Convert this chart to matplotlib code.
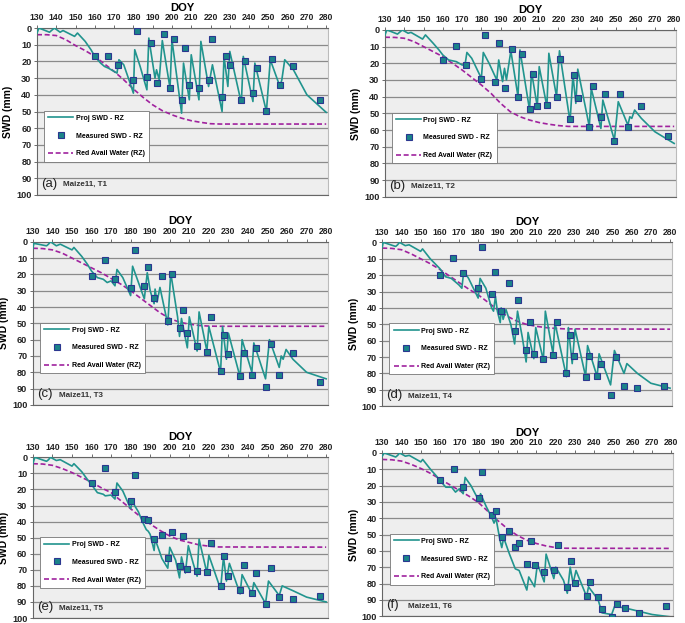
import matplotlib
matplotlib.use("Agg")
import matplotlib.pyplot as plt
import numpy as np

plt.rcParams['font.family'] = ['Liberation Sans', 'DejaVu Sans']

# ========================================
# Datos
# ========================================
doy_meas = [160, 167, 172, 180, 182, 187, 189, 192, 196, 199, 201, 205, 207, 209, 214,
            219, 221, 226, 228, 230, 236, 238, 242, 244, 249, 252, 256, 263, 277]

meas_a = [17, 17, 22.4, 31, 2, 29.4, 9, 33, 3.6, 35.8, 6.4, 43, 12.2, 34.4, 36,
          31.4, 6.6, 41.6, 17, 22.2, 43.4, 20, 39, 24, 49.5, 18.3, 34.3, 23, 43]
meas_b = [17.9, 9.8, 21, 29.5, 3.2, 31.5, 7.6, 34.9, 11.4, 40, 14.7, 47.4, 26.5, 45.4, 44.8,
          40, 17.7, 53.4, 27.3, 40.6, 58.4, 33.3, 52, 38.6, 66.3, 38.2, 58.4, 45.6, 63.5]
meas_c = [21, 11, 22.9, 28.2, 5.3, 27.1, 15.7, 34.3, 21.2, 48.6, 19.8, 52.9, 42, 56.1, 64,
          67.3, 46, 79, 57.3, 69, 82.4, 68, 81.6, 65, 89, 62.4, 81.8, 68, 85.7]
meas_d = [19.9, 9.3, 18.5, 28, 3, 31.4, 17.8, 42, 25, 54.4, 35.1, 66, 48.7, 68.2, 71,
          68.6, 48.5, 80, 56.4, 69.2, 82, 69.2, 81.3, 74.2, 93, 70, 87.4, 88.8, 87.6]
meas_e = [16.1, 6.6, 21.3, 26.9, 11, 38.7, 39.1, 50.7, 48.6, 62.5, 46.2, 67.9, 48.9, 69.2, 71,
          71.4, 53.2, 80.1, 61.7, 74.1, 82.6, 66.9, 84.7, 72.3, 91.5, 68.7, 86.7, 88.4, 86.5]
meas_f = [16.7, 9.8, 20.6, 27.7, 11.6, 38.3, 35.8, 51.3, 47.9, 57.6, 55, 68.2, 53.8, 68.6, 72.9,
          71.9, 56.6, 81.9, 66, 79.6, 87.4, 78.8, 88.4, 95.9, 100.4, 92.3, 95.3, 98.2, 93.7]

# Proj SWD - RZ (simulado)
sim_doy_a = [130, 131, 136.5, 137.5, 139, 142, 143.5, 149.5, 151, 155, 158, 160, 163, 165, 167, 170,
             171.5, 172.5, 175, 178, 180, 180.7, 183.5, 187, 188, 191.2, 192, 193.4, 195, 199, 200,
             205, 206, 209, 210, 214, 215, 219, 221, 226, 227, 229, 230, 236, 237, 242, 243, 249,
             251, 256, 257, 258.5, 263, 270, 280]
sim_a = [3, 0, 2.5, 1.5, 0, 2.5, 1.5, 5, 3, 8, 13, 17, 21, 23, 24, 26,
         27, 19, 22, 32, 39, 13, 23, 37, 6, 30, 25, 31, 7.5, 36, 7,
         51, 21, 43, 16, 43, 8, 35, 22, 50, 17, 35, 14, 45, 17, 44, 21, 50,
         19, 35, 31, 19, 25, 40, 50.5]

sim_doy_b = [130, 131, 136.5, 137.5, 139, 142, 143.5, 149.5, 151, 155, 158, 160, 163, 167, 170, 171.5,
             172.5, 175, 180, 181, 184, 188, 189, 191, 192, 193, 195.3, 199, 200, 205, 206, 209, 210,
             214, 215, 219, 220.5, 226, 227.5, 229, 230, 236, 237, 242, 243, 249, 251, 256, 257, 258,
             259.5, 263, 270, 280]
sim_b = [3, 0, 2.5, 1.5, 0, 2, 1.5, 5.5, 3, 8, 12, 15, 18, 19, 21, 21,
         13.5, 17, 29, 13.5, 20, 30, 18, 31, 23, 30, 12.5, 40, 12, 48, 25, 46, 22,
         46, 14, 40, 12.5, 55, 27, 44, 23.5, 58, 35, 59, 42, 66, 43, 57, 52, 53,
         48, 53, 61, 68]

sim_doy_c = [130, 130.5, 137, 138, 139, 142, 144, 150, 151, 155, 158, 160, 163, 166, 168, 170, 172,
             173, 176, 180, 181, 184, 187, 188.5, 190, 192, 192.5, 193.5, 195, 198, 199, 200.5, 204,
             205, 206, 209, 210, 214, 215, 219, 220, 226, 227, 229, 230, 236, 237, 242, 243, 249,
             251, 256, 257, 258, 259.5, 263, 270, 280]
sim_c = [4, 1, 2.5, 1.5, 0, 2.5, 1.5, 5, 3.5, 9, 14, 18, 22, 23, 25, 24, 27,
         17, 22, 33, 15, 25, 35, 19, 30, 38, 29, 37, 28, 45, 51, 19, 46,
         58, 47, 65, 46, 67, 43, 67, 52, 80, 52, 72, 56, 83, 60, 80, 62, 84,
         60, 77, 70, 72, 66, 72, 80, 84]

sim_doy_d = [130, 130.5, 137, 138, 139, 142, 144, 150, 151, 155, 160, 163, 166, 168, 170, 171.5,
             172.5, 175, 180, 181, 184, 187, 188, 189, 190, 191.5, 192, 193, 194.5, 197, 199, 200.5,
             203, 205, 206, 209, 210, 214, 215, 219, 220, 226, 227, 229, 230.5, 236, 237, 242, 243,
             249, 251, 256, 257.5, 263, 270, 280]
sim_d = [3, 0, 2.5, 1.5, 0, 2, 1.5, 5.5, 4, 10, 16, 21, 22, 24, 26, 28,
         17.5, 22, 34, 22, 28, 40, 42, 33, 42, 49, 40, 47, 41, 50, 62, 42,
         58, 73, 55, 71, 52, 72, 42, 68, 49, 82, 52, 74, 53, 82, 63, 82, 68,
         87, 66, 80, 74, 80, 86, 89]

sim_doy_e = [130, 131, 137, 138, 139, 142, 144, 150, 151, 155, 158, 160, 163, 166, 167, 170, 172,
             173, 176, 180, 181, 182, 184, 186, 188, 189, 190, 192, 192.5, 194, 196, 199, 200, 203,
             205, 206, 208, 209.5, 212, 214, 215, 219, 220, 226, 227.5, 229, 230.5, 236, 237, 242,
             243, 249, 250.5, 256, 257.5, 263, 270, 280]
sim_e = [4, 0, 2.5, 1.5, 0, 2, 1.5, 5.5, 4, 9, 14, 17, 22, 23, 24, 23.5, 26,
         16, 21, 32, 27, 30, 34, 40, 45, 46, 48, 58, 51, 56, 63, 69, 56, 64,
         75, 62, 72, 55, 66, 74, 51, 72, 61, 82, 62, 77, 66, 85, 73, 85,
         78, 91, 77, 86, 80, 83, 87, 90]

sim_doy_f = [130, 131, 137, 138, 139, 142, 144, 150, 151, 155, 158, 160, 163, 166, 168, 170, 172,
             173, 176, 180, 181, 184, 187, 188, 189, 191, 192, 193, 196, 199, 201, 205, 206, 209,
             210.5, 214, 215, 219, 220, 224, 226, 227.5, 229, 230.5, 236, 237, 242, 244, 249, 250.5,
             256, 263, 270, 280]
sim_f = [2, 0, 2.5, 1.5, 0, 2, 1.5, 5.5, 4, 10, 14, 17, 21, 21, 24, 22, 25,
         15, 20, 29, 25, 33, 40, 43, 40, 53, 58, 52, 62, 71, 72, 84, 76, 82,
         68, 79, 62, 77, 70, 78, 86, 70, 80, 72, 88, 82, 90, 98, 99, 94,
         95, 97, 99, 100.5]

# Red Avail Water (RZ)
raw_doy = [130, 135, 140, 145, 150, 155, 160, 165, 170, 175, 180, 185, 190, 195, 200,
           205, 210, 215, 220, 225, 280]
raw_a = [4, 4, 4.5, 7, 10.5, 13.5, 17, 21.5, 26, 31, 36.5, 41.5, 46, 49.5, 52,
         54, 55.5, 56.5, 57.3, 57.5, 57.5]
raw_b = [4.4, 4.5, 5, 7, 10, 13, 16, 20, 24, 28.5, 33, 38, 44, 49, 52,
         54, 55.5, 56.5, 57.3, 57.8, 57.8]
raw_c = [4, 4.2, 5, 7, 10, 13, 16, 19, 22.5, 26, 30, 34.5, 39, 43.5, 47,
         49.3, 50.5, 51.3, 51.7, 51.8, 51.8]
raw_d = [3.5, 3.7, 4.5, 7, 10, 13, 16.5, 20.5, 24.5, 28.5, 32, 36.5, 41, 45, 48,
         50, 51.2, 52, 52.5, 52.8, 53]
raw_e = [4, 4.2, 5, 7, 9.5, 12.5, 15.5, 19, 22, 27, 32, 37, 41.5, 45.5, 49,
         51.5, 53, 54.5, 55.3, 55.8, 55.9]
raw_f = [4, 4.2, 5, 7, 9.5, 12.5, 16, 19.5, 23, 26.5, 30.5, 36, 41.5, 46.5, 50.5,
         53.5, 55.5, 57, 58, 58.4, 58.5]

etiquetas = ["(a)", "(b)", "(c)", "(d)", "(e)", "(f)"]
tratamientos = ["Maize11, T1", "Maize11, T2", "Maize11, T3", "Maize11, T4", "Maize11, T5", "Maize11, T6"]

# ========================================
# Colores
# ========================================
color_linea = "#21948e"
color_marcador = "#1b8489"
color_borde = "#2b3790"
color_raw = "#a0229e"
color_fondo = "#eeeeee"

# posiciones de los ejes [left, bottom, width, height] en fracción de figura
posiciones = [
    [0.054, 0.687, 0.425, 0.268],
    [0.562, 0.684, 0.425, 0.268],
    [0.048, 0.350, 0.431, 0.262],
    [0.558, 0.348, 0.423, 0.263],
    [0.048, 0.008, 0.431, 0.258],
    [0.558, 0.011, 0.425, 0.262],
]

paneles = [
    (sim_doy_a, sim_a, meas_a, raw_a),
    (sim_doy_b, sim_b, meas_b, raw_b),
    (sim_doy_c, sim_c, meas_c, raw_c),
    (sim_doy_d, sim_d, meas_d, raw_d),
    (sim_doy_e, sim_e, meas_e, raw_e),
    (sim_doy_f, sim_f, meas_f, raw_f),
]

fig = plt.figure(figsize=(6.85, 6.23), dpi=100)

for i, (sd, sv, mv, rv) in enumerate(paneles):
    ax = fig.add_axes(posiciones[i])
    ax.set_facecolor(color_fondo)

    ax.plot(sd, sv, color=color_linea, lw=1.2, label="Proj SWD - RZ", zorder=3)
    ax.plot(doy_meas, mv, ls="none", marker="s", ms=4.2, mfc=color_marcador,
            mec=color_borde, mew=0.8, label="Measured SWD - RZ", zorder=4)
    ax.plot(raw_doy, rv, color=color_raw, lw=1.2, ls=(0, (3, 1.6)),
            label="Red Avail Water (RZ)", zorder=2)

    ax.set_xlim(130, 281)
    ax.set_ylim(100, 0)
    ax.set_xticks(np.arange(130, 281, 10))
    ax.set_yticks(np.arange(0, 101, 10))
    ax.xaxis.tick_top()
    ax.xaxis.set_label_position("top")
    ax.tick_params(axis="x", labelsize=6.2, length=2.5, width=0.6, pad=1.5, color="#555555")
    ax.tick_params(axis="y", labelsize=6.6, length=2.5, width=0.6, pad=1.5, color="#555555")
    for t in ax.get_xticklabels() + ax.get_yticklabels():
        t.set_fontweight("bold")
        t.set_color("#222222")

    ax.set_xlabel("DOY", fontsize=8, fontweight="bold", labelpad=2)
    ax.set_ylabel("SWD (mm)", fontsize=7.5, fontweight="bold", labelpad=2)

    ax.yaxis.grid(True, color="#8a8a8a", lw=0.9)
    ax.set_axisbelow(True)
    for lado in ["left", "top", "bottom"]:
        ax.spines[lado].set_color("#666666")
        ax.spines[lado].set_linewidth(0.8)
    ax.spines["right"].set_color("#bbbbbb")

    leg = ax.legend(loc="upper left", bbox_to_anchor=(0.025, 0.505),
                    prop={"weight": "bold", "size": 5}, frameon=True, fancybox=False,
                    edgecolor="#777777", framealpha=1, borderpad=0.6,
                    labelspacing=1.55, handlelength=3.6, handletextpad=0.3, borderaxespad=0)
    leg.get_frame().set_linewidth(0.6)

    ax.text(0.015, 0.03, etiquetas[i], transform=ax.transAxes, fontsize=9.5,
            va="bottom", ha="left", color="#222222")
    ax.text(0.09, 0.04, tratamientos[i], transform=ax.transAxes, fontsize=5.8,
            fontweight="bold", va="bottom", ha="left", color="#333333")

plt.savefig("out.png", dpi=100)
